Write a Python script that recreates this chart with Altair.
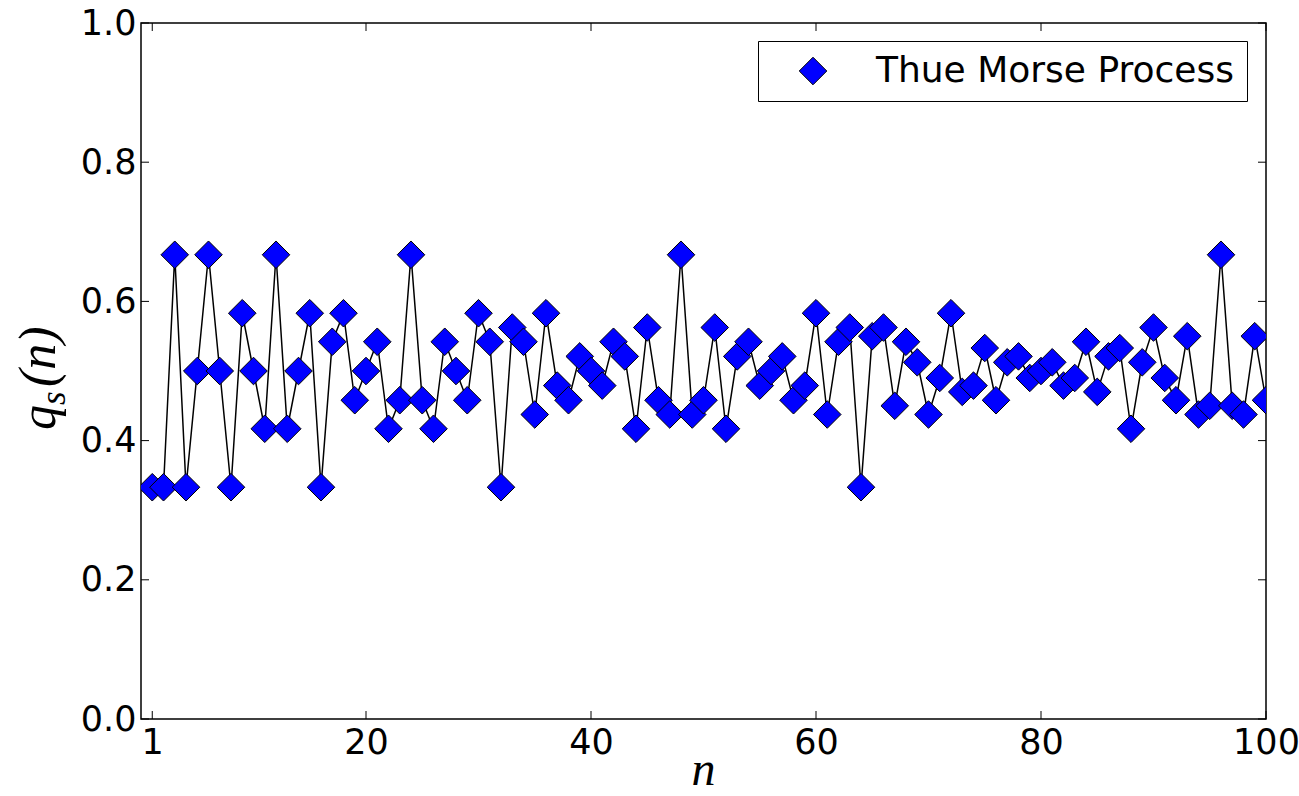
import altair as alt
import pandas as pd

n_values = list(range(1, 101))
q_values = [
    0.333, 0.333, 0.667, 0.333, 0.5, 0.667, 0.5, 0.333, 0.583, 0.5,
    0.417, 0.667, 0.417, 0.5, 0.583, 0.333, 0.542, 0.583, 0.458, 0.5,
    0.542, 0.417, 0.458, 0.667, 0.458, 0.417, 0.542, 0.5, 0.458, 0.583,
    0.542, 0.333, 0.5625, 0.542, 0.4375, 0.583, 0.479, 0.458, 0.521, 0.5,
    0.479, 0.542, 0.521, 0.417, 0.5625, 0.458, 0.4375, 0.667, 0.4375, 0.458,
    0.5625, 0.417, 0.521, 0.542, 0.479, 0.5, 0.521, 0.458, 0.479, 0.583,
    0.4375, 0.542, 0.5625, 0.333, 0.55, 0.5625, 0.45, 0.542, 0.5125, 0.4375,
    0.49, 0.583, 0.47, 0.479, 0.533, 0.458, 0.5125, 0.521, 0.49, 0.5,
    0.5125, 0.479, 0.49, 0.542, 0.47, 0.521, 0.533, 0.417, 0.5125, 0.5625,
    0.49, 0.458, 0.55, 0.4375, 0.45, 0.667, 0.45, 0.4375, 0.55, 0.458,
]
series_name = "Thue Morse Process"
x_ticks = [1, 20, 40, 60, 80, 100]
y_ticks = [0.0, 0.2, 0.4, 0.6, 0.8, 1.0]

W, H = 1125, 696
TICK = 8

df = pd.DataFrame({"n": n_values, "q": q_values, "series": series_name})
xt = pd.DataFrame({"t": x_ticks})
yt = pd.DataFrame({"t": y_ticks})

xs = alt.Scale(domain=[0, 100], nice=False, zero=False)
ys = alt.Scale(domain=[0, 1], nice=False, zero=False)

x_axis = alt.Axis(values=x_ticks, title=None, grid=False, domain=False, ticks=False,
                  labelFont="DejaVu Sans", labelFontSize=35, labelColor="black",
                  labelPadding=6, labelFlush=False, labelBound=False, labelOverlap=False)
y_axis = alt.Axis(values=y_ticks, title=None, grid=False, domain=False, ticks=False,
                  format=".1f", labelFont="DejaVu Sans", labelFontSize=35,
                  labelColor="black", labelPadding=5, labelFlush=False, labelOverlap=False)

line = alt.Chart(df).mark_line(color="black", strokeWidth=1.5, clip=True).encode(
    x=alt.X("n:Q", scale=xs, axis=x_axis),
    y=alt.Y("q:Q", scale=ys, axis=y_axis),
)

points = alt.Chart(df).mark_point(
    shape="diamond", filled=True, size=760, stroke="black", strokeWidth=1,
    opacity=1, clip=True
).encode(
    x=alt.X("n:Q", scale=xs),
    y=alt.Y("q:Q", scale=ys),
    color=alt.Color("series:N", scale=alt.Scale(range=["#0000ff"]),
                    legend=alt.Legend(
                        title=None, orient="none", legendX=617, legendY=18,
                        strokeColor="black", fillColor="white", padding=12,
                        cornerRadius=0, symbolType="diamond", symbolSize=760,
                        symbolStrokeColor="black", symbolStrokeWidth=1,
                        symbolOffset=25, labelOffset=45,
                        labelFont="DejaVu Sans", labelFontSize=36,
                        labelColor="black", labelLimit=600)),
)

tick_bottom = alt.Chart(xt).mark_rule(color="black", strokeWidth=1).encode(
    x=alt.X("t:Q", scale=xs), y=alt.value(H), y2=alt.value(H - TICK))
tick_top = alt.Chart(xt).mark_rule(color="black", strokeWidth=1).encode(
    x=alt.X("t:Q", scale=xs), y=alt.value(0), y2=alt.value(TICK))
tick_left = alt.Chart(yt).mark_rule(color="black", strokeWidth=1).encode(
    y=alt.Y("t:Q", scale=ys), x=alt.value(0), x2=alt.value(TICK))
tick_right = alt.Chart(yt).mark_rule(color="black", strokeWidth=1).encode(
    y=alt.Y("t:Q", scale=ys), x=alt.value(W), x2=alt.value(W - TICK))

serif = "Liberation Serif"
xtitle = alt.Chart(pd.DataFrame({"t": ["n"]})).mark_text(
    font=serif, fontStyle="italic", fontSize=48, align="center",
    baseline="alphabetic", color="black"
).encode(x=alt.value(W / 2), y=alt.value(H + 66), text="t:N")

yq = alt.Chart(pd.DataFrame({"t": ["q"]})).mark_text(
    font=serif, fontStyle="italic", fontSize=50, align="left",
    baseline="alphabetic", angle=270, color="black"
).encode(x=alt.value(-86), y=alt.value(407), text="t:N")
ysub = alt.Chart(pd.DataFrame({"t": ["s"]})).mark_text(
    font=serif, fontStyle="italic", fontSize=35, align="left",
    baseline="alphabetic", angle=270, color="black"
).encode(x=alt.value(-76), y=alt.value(382), text="t:N")
yn = alt.Chart(pd.DataFrame({"t": ["(n)"]})).mark_text(
    font=serif, fontStyle="italic", fontSize=52, align="left",
    baseline="alphabetic", angle=270, color="black"
).encode(x=alt.value(-86), y=alt.value(364), text="t:N")

chart = alt.layer(
    line, points, tick_bottom, tick_top, tick_left, tick_right,
    xtitle, yq, ysub, yn
).properties(
    width=W, height=H,
    autosize=alt.AutoSizeParams(type="none"),
    padding={"left": 141, "top": 23, "right": 33, "bottom": 77},
    background="white",
).configure_view(stroke="black", strokeWidth=1.5)

chart.save("out.html", embed_options={"renderer": "svg", "actions": False})
